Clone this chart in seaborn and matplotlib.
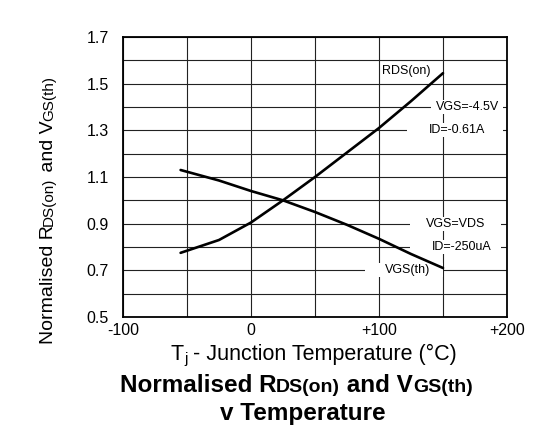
import numpy as np
import pandas as pd
import matplotlib
matplotlib.use('Agg')
import matplotlib.pyplot as plt
from matplotlib.patches import Rectangle
import seaborn as sns

# values
temps = [-55, -25, 0, 25, 50, 75, 100, 125, 150]
rds_on = [0.775, 0.83, 0.905, 1.0, 1.10, 1.205, 1.31, 1.425, 1.545]
vgs_th = [1.13, 1.085, 1.04, 1.0, 0.95, 0.895, 0.835, 0.77, 0.71]

x_ticks = [-100, -50, 0, 50, 100, 150, 200]
x_labels = ['-100', '', '0', '', '+100', '', '+200']
y_ticks = [0.5, 0.6, 0.7, 0.8, 0.9, 1.0, 1.1, 1.2, 1.3, 1.4, 1.5, 1.6, 1.7]
y_labels = ['0.5', '', '0.7', '', '0.9', '', '1.1', '', '1.3', '', '1.5', '', '1.7']

W, H = 545, 438

sns.set_style('white')
plt.rcParams['font.family'] = ['Liberation Sans', 'DejaVu Sans']
plt.rcParams['text.color'] = 'black'

df = pd.DataFrame({'T': temps, 'RDS(on)': rds_on, 'VGS(th)': vgs_th})

fig = plt.figure(figsize=(W / 100, H / 100), dpi=100)
ax = fig.add_axes([123 / W, 1 - 317 / H, 384 / W, 280 / H])

sns.lineplot(data=df, x='T', y='RDS(on)', ax=ax, color='black', linewidth=1.9, zorder=3)
sns.lineplot(data=df, x='T', y='VGS(th)', ax=ax, color='black', linewidth=1.9, zorder=3)

ax.set_xlim(-100, 200)
ax.set_ylim(0.5, 1.7)
ax.set_xticks(x_ticks)
ax.set_xticklabels(x_labels)
ax.set_yticks(y_ticks)
ax.set_yticklabels(y_labels)
ax.tick_params(length=0, labelsize=11.5, colors='black')
ax.tick_params(axis='x', pad=4)
ax.tick_params(axis='y', pad=10)
ax.grid(True, color='#222222', linewidth=0.8)
ax.set_axisbelow(True)
for s in ax.spines.values():
    s.set_color('black')
    s.set_linewidth(1.3)
ax.set_xlabel('')
ax.set_ylabel('')


# white patches that break the grid behind the annotations
def blank(x0, x1, yc, h=0.06):
    ax.add_patch(Rectangle((x0, yc - h / 2), x1 - x0, h, facecolor='white',
                           edgecolor='none', zorder=1.5))


blank(141, 197, 1.4)
blank(122, 197, 1.3)
blank(124, 195, 0.9)
blank(124, 195, 0.8)
blank(89, 150, 0.7)

ann = dict(fontsize=9, ha='center', va='center', zorder=2)
ax.text(121, 1.555, 'RDS(on)', **ann)
ax.text(169, 1.40, 'VGS=-4.5V', **ann)
ax.text(161, 1.30, 'ID=-0.61A', **ann)
ax.text(160, 0.90, 'VGS=VDS', **ann)
ax.text(165, 0.80, 'ID=-250uA', **ann)
ax.text(122, 0.70, 'VGS(th)', **ann)


# text built from runs of different sizes sharing one baseline
def draw_runs(runs, xc, yb, rotation=0, weight='normal'):
    renderer = fig.canvas.get_renderer()

    def width(s, size):
        t = fig.text(0, 0, s + '|', fontsize=size, fontweight=weight)
        w1 = t.get_window_extent(renderer).width
        t.set_text('|')
        w2 = t.get_window_extent(renderer).width
        t.remove()
        return w1 - w2

    widths = [width(s, size) for s, size, _ in runs]
    pos = -sum(widths) / 2
    for (s, size, dy), w in zip(runs, widths):
        if rotation == 0:
            x, y = xc + pos, yb + dy
        else:
            x, y = xc - dy, yb - pos
        fig.text(x / W, 1 - y / H, s, fontsize=size, fontweight=weight,
                 rotation=rotation, rotation_mode='anchor',
                 ha='left', va='baseline', color='black')
        pos += w


draw_runs([('T', 15.5, 0), ('j', 11, 3), (' - Junction Temperature (°C)', 15.5, 0)],
          314, 360)
draw_runs([('Normalised R', 14, 0), ('DS(on)', 11, 0), (' and V', 14, 0), ('GS(th)', 11, 0)],
          53, 210, rotation=90)
draw_runs([('Normalised R', 17.5, 0), ('DS(on)', 14, 0), (' and V', 17.5, 0), ('GS(th)', 14, 0)],
          296, 392, weight='bold')
draw_runs([('v Temperature', 17.5, 0)], 303, 420, weight='bold')

fig.savefig('out.png', dpi=100)
